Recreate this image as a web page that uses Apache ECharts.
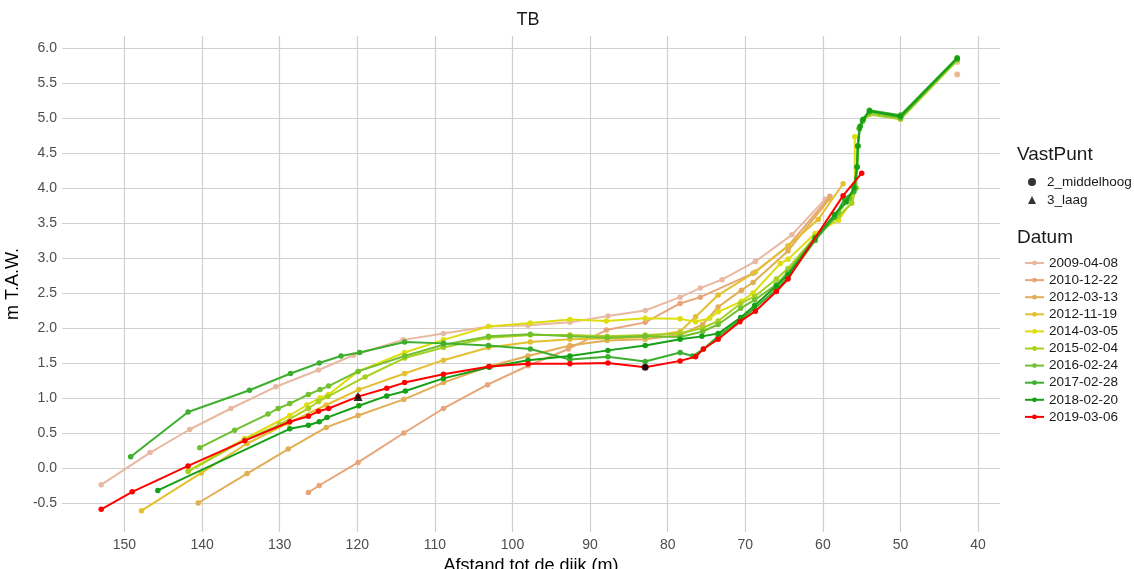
<!DOCTYPE html>
<html>
<head>
<meta charset="utf-8">
<script src="https://cdn.jsdelivr.net/npm/echarts@6/dist/echarts.min.js"></script>
<style>
html,body{margin:0;padding:0;background:#fff;}
#chart{width:1134px;height:569px;}
</style>
</head>
<body>
<div id="chart"></div>
<script>
// ---- data ----
const datumNames = ['2009-04-08','2010-12-22','2012-03-13','2012-11-19','2014-03-05','2015-02-04','2016-02-24','2017-02-28','2018-02-20','2019-03-06'];
const datumColors = ['#E8B9A0','#E8A678','#E2AE55','#E3C030','#DDDD10','#A8D020','#70C030','#3DAE2D','#15A015','#FF0000'];

const d2009 = [[153.0,-0.24],[146.7,0.22],[141.6,0.55],[136.3,0.85],[130.5,1.16],[125.0,1.40],[120.5,1.61],[114.1,1.83],[108.9,1.92],[103.1,2.02],[98.0,2.04],[92.6,2.08],[87.7,2.17],[82.9,2.25],[78.4,2.44],[75.8,2.57],[73.0,2.69],[68.7,2.95],[64.0,3.33],[59.7,3.84]];
const d2010 = [[126.3,-0.35],[124.9,-0.25],[119.9,0.08],[114.0,0.50],[108.9,0.85],[103.2,1.19],[98.0,1.46],[92.8,1.70],[87.9,1.97],[82.9,2.08],[78.4,2.35],[75.8,2.44],[69.0,2.78],[64.5,3.17],[59.1,3.88]];
const d2012a = [[140.5,-0.50],[134.2,-0.08],[128.9,0.27],[124.0,0.58],[119.9,0.75],[114.0,0.98],[108.9,1.22],[103.1,1.45],[98.0,1.60],[92.6,1.75],[87.8,1.82],[82.9,1.84],[78.4,1.90],[75.5,2.05],[73.5,2.30],[70.5,2.54],[69.0,2.65],[64.5,3.10],[59.1,3.85]];
const d2012b = [[147.8,-0.61],[140.1,-0.07],[134.2,0.35],[128.9,0.64],[124.0,0.90],[119.8,1.12],[113.9,1.35],[108.9,1.54],[103.1,1.72],[97.7,1.80],[92.6,1.84],[87.8,1.85],[82.9,1.87],[78.4,1.95],[76.4,2.16],[73.5,2.47],[68.7,2.80],[64.5,3.17],[60.6,3.55],[57.4,4.06]];
const d2014 = [[141.8,-0.04],[134.5,0.42],[128.7,0.75],[126.5,0.90],[124.8,1.00],[123.7,1.05],[119.9,1.38],[113.9,1.65],[108.9,1.83],[103.1,2.02],[97.7,2.07],[92.6,2.12],[87.9,2.10],[82.9,2.14],[78.4,2.13],[76.4,2.09],[74.6,2.14],[73.5,2.23],[70.5,2.38],[69.0,2.50],[65.5,2.92],[64.5,2.98],[61.0,3.35],[58.0,3.54],[56.3,3.80],[55.9,4.05],[55.9,4.73]];
const d2015 = [[141.8,-0.05],[134.5,0.40],[130.0,0.62],[126.3,0.85],[125.0,0.95],[123.8,1.02],[119.0,1.30],[113.9,1.57],[108.9,1.72],[103.1,1.86],[97.7,1.90],[92.6,1.90],[87.8,1.88],[82.9,1.90],[78.4,1.92],[75.5,2.00],[73.5,2.10],[70.6,2.35],[68.8,2.45],[66.0,2.70],[64.5,2.85],[61.0,3.30],[58.0,3.60],[56.3,3.78],[55.7,4.00],[55.6,4.30],[55.5,4.60],[55.3,4.85],[54.9,4.95],[54.0,5.05],[50.0,4.98],[42.7,5.82]];
const d2016 = [[140.3,0.29],[135.8,0.54],[131.5,0.77],[130.2,0.85],[128.7,0.92],[126.3,1.05],[124.8,1.12],[123.7,1.17],[119.9,1.38],[113.9,1.60],[108.9,1.76],[103.1,1.88],[97.7,1.91],[92.6,1.88],[87.8,1.86],[82.9,1.88],[78.4,1.87],[75.5,1.95],[73.5,2.05],[70.6,2.28],[68.8,2.40],[66.0,2.62],[64.5,2.80],[61.0,3.30],[58.0,3.65],[56.6,3.85],[55.8,4.00],[55.6,4.30],[55.5,4.60],[55.3,4.85],[54.9,4.95],[54.0,5.08],[50.0,5.00],[42.7,5.84]];
const d2017 = [[149.2,0.16],[141.8,0.80],[133.9,1.11],[128.6,1.35],[124.9,1.50],[122.1,1.60],[119.7,1.65],[113.9,1.80],[108.9,1.78],[103.1,1.75],[97.7,1.70],[92.6,1.55],[87.7,1.59],[82.9,1.52],[78.4,1.65],[76.8,1.60],[75.4,1.70],[73.5,1.88],[70.6,2.12],[68.8,2.28],[66.0,2.55],[64.5,2.72],[61.0,3.25],[58.5,3.58],[57.2,3.85],[56.0,3.95],[55.6,4.30],[55.5,4.60],[55.3,4.85],[54.9,4.97],[54.0,5.11],[50.0,5.04],[42.7,5.86]];
const d2018 = [[145.7,-0.32],[128.7,0.56],[126.3,0.61],[124.9,0.66],[123.9,0.72],[119.8,0.89],[116.2,1.03],[113.8,1.10],[108.9,1.28],[103.0,1.44],[98.0,1.54],[92.6,1.60],[87.7,1.68],[82.9,1.75],[78.4,1.84],[75.6,1.88],[73.5,1.92],[70.6,2.15],[68.8,2.32],[66.0,2.60],[64.5,2.76],[61.0,3.28],[58.5,3.62],[57.0,3.80],[56.0,4.00],[55.6,4.30],[55.5,4.60],[55.2,4.88],[54.8,4.98],[54.0,5.10],[50.0,5.02],[42.7,5.85]];
const d2019 = [[153.0,-0.59],[149.0,-0.34],[141.8,0.03],[134.5,0.39],[128.7,0.66],[126.3,0.74],[125.0,0.81],[123.7,0.85],[119.9,1.02],[116.2,1.14],[113.9,1.22],[108.9,1.34],[103.0,1.45],[98.0,1.49],[92.6,1.49],[87.7,1.50],[82.9,1.44],[78.4,1.53],[76.4,1.59],[75.4,1.70],[73.5,1.84],[70.7,2.09],[68.7,2.24],[66.0,2.52],[64.5,2.70],[57.4,3.89],[55.0,4.21]];
const lone2009 = [[42.7,5.80]];
const lone2010 = [[42.7,5.62]];
const ptMiddelhoog = [[82.9,1.44]];
const ptLaag = [[119.9,1.02]];

const xTicks = [150,140,130,120,110,100,90,80,70,60,50,40];
const yTicks = [-0.5,0,0.5,1,1.5,2,2.5,3,3.5,4,4.5,5,5.5,6];

const allData = [d2009,d2010,d2012a,d2012b,d2014,d2015,d2016,d2017,d2018,d2019];

// ---- chart ----
const FONT = "'Liberation Sans', Arial, sans-serif";
const chart = echarts.init(document.getElementById('chart'), null, {renderer:'canvas'});

const series = [];
datumNames.forEach((n,i)=>{
  series.push({
    type:'line', name:n, data:allData[i], color:datumColors[i],
    symbol:'circle', symbolSize:5.5, showSymbol:true,
    lineStyle:{width:2}, itemStyle:{color:datumColors[i]},
    z:2+i, animation:false, silent:true
  });
});
series.push({type:'scatter', name:'iso2009', data:lone2009, symbol:'circle', symbolSize:6, itemStyle:{color:datumColors[0]}, z:2, animation:false, silent:true});
series.push({type:'scatter', name:'iso2010', data:lone2010, symbol:'circle', symbolSize:6, itemStyle:{color:datumColors[1]}, z:2, animation:false, silent:true});
series.push({type:'scatter', name:'2_middelhoog', data:ptMiddelhoog, symbol:'circle', symbolSize:7, itemStyle:{color:'#000'}, z:20, animation:false, silent:true});
series.push({type:'scatter', name:'3_laag', data:ptLaag, symbol:'triangle', symbolSize:9, itemStyle:{color:'#000'}, z:20, animation:false, silent:true});

const option = {
  backgroundColor:'#fff',
  textStyle:{fontFamily:FONT},
  animation:false,
  grid:{left:62, right:134, top:36, bottom:37, containLabel:false, outerBoundsMode:'none'},
  xAxis:{
    type:'value', inverse:true, min:37.18, max:158.05,
    name:'Afstand tot de dijk (m)', nameLocation:'middle', nameGap:18,
    nameTextStyle:{fontSize:18, color:'#000', fontFamily:FONT},
    axisLine:{show:false},
    axisTick:{show:false, customValues:xTicks},
    axisLabel:{customValues:xTicks, color:'#4d4d4d', fontSize:14, margin:6, fontFamily:FONT},
    splitLine:{show:true, lineStyle:{color:'#d0d0d0', width:1.2}}
  },
  yAxis:{
    type:'value', min:-0.914, max:6.17,
    name:'m T.A.W.', nameLocation:'middle', nameGap:28, nameRotate:90,
    nameTextStyle:{fontSize:18, color:'#000', fontFamily:FONT},
    axisLine:{show:false},
    axisTick:{show:false, customValues:yTicks},
    axisLabel:{customValues:yTicks, color:'#4d4d4d', fontSize:14, margin:5, fontFamily:FONT,
      formatter:v=>Number(v).toFixed(1)},
    splitLine:{show:true, lineStyle:{color:'#d0d0d0', width:1.2}}
  },
  legend:[
    {
      data:[{name:'2_middelhoog', icon:'circle'},{name:'3_laag', icon:'triangle'}],
      orient:'vertical', left:1023, top:170, itemWidth:8, itemHeight:8, itemGap:4,
      selectedMode:false,
      textStyle:{fontSize:13.5, lineHeight:14, color:'#1a1a1a', fontFamily:FONT, padding:[0,0,0,6]}
    },
    {
      data:datumNames,
      orient:'vertical', left:1019, top:251, itemWidth:19, itemHeight:6, itemGap:3.1,
      selectedMode:false,
      textStyle:{fontSize:13.5, lineHeight:14, color:'#1a1a1a', fontFamily:FONT}
    }
  ],
  graphic:[
    {type:'text', x:528, y:20, style:{text:'TB', font:'18px '+FONT, fill:'#1a1a1a', textAlign:'center', textVerticalAlign:'middle'}},
    {type:'text', x:1017, y:155, style:{text:'VastPunt', font:'19px '+FONT, fill:'#1a1a1a', textAlign:'left', textVerticalAlign:'middle'}},
    {type:'text', x:1017, y:238, style:{text:'Datum', font:'19px '+FONT, fill:'#1a1a1a', textAlign:'left', textVerticalAlign:'middle'}}
  ],
  series:series
};
chart.setOption(option);
</script>
</body>
</html>
